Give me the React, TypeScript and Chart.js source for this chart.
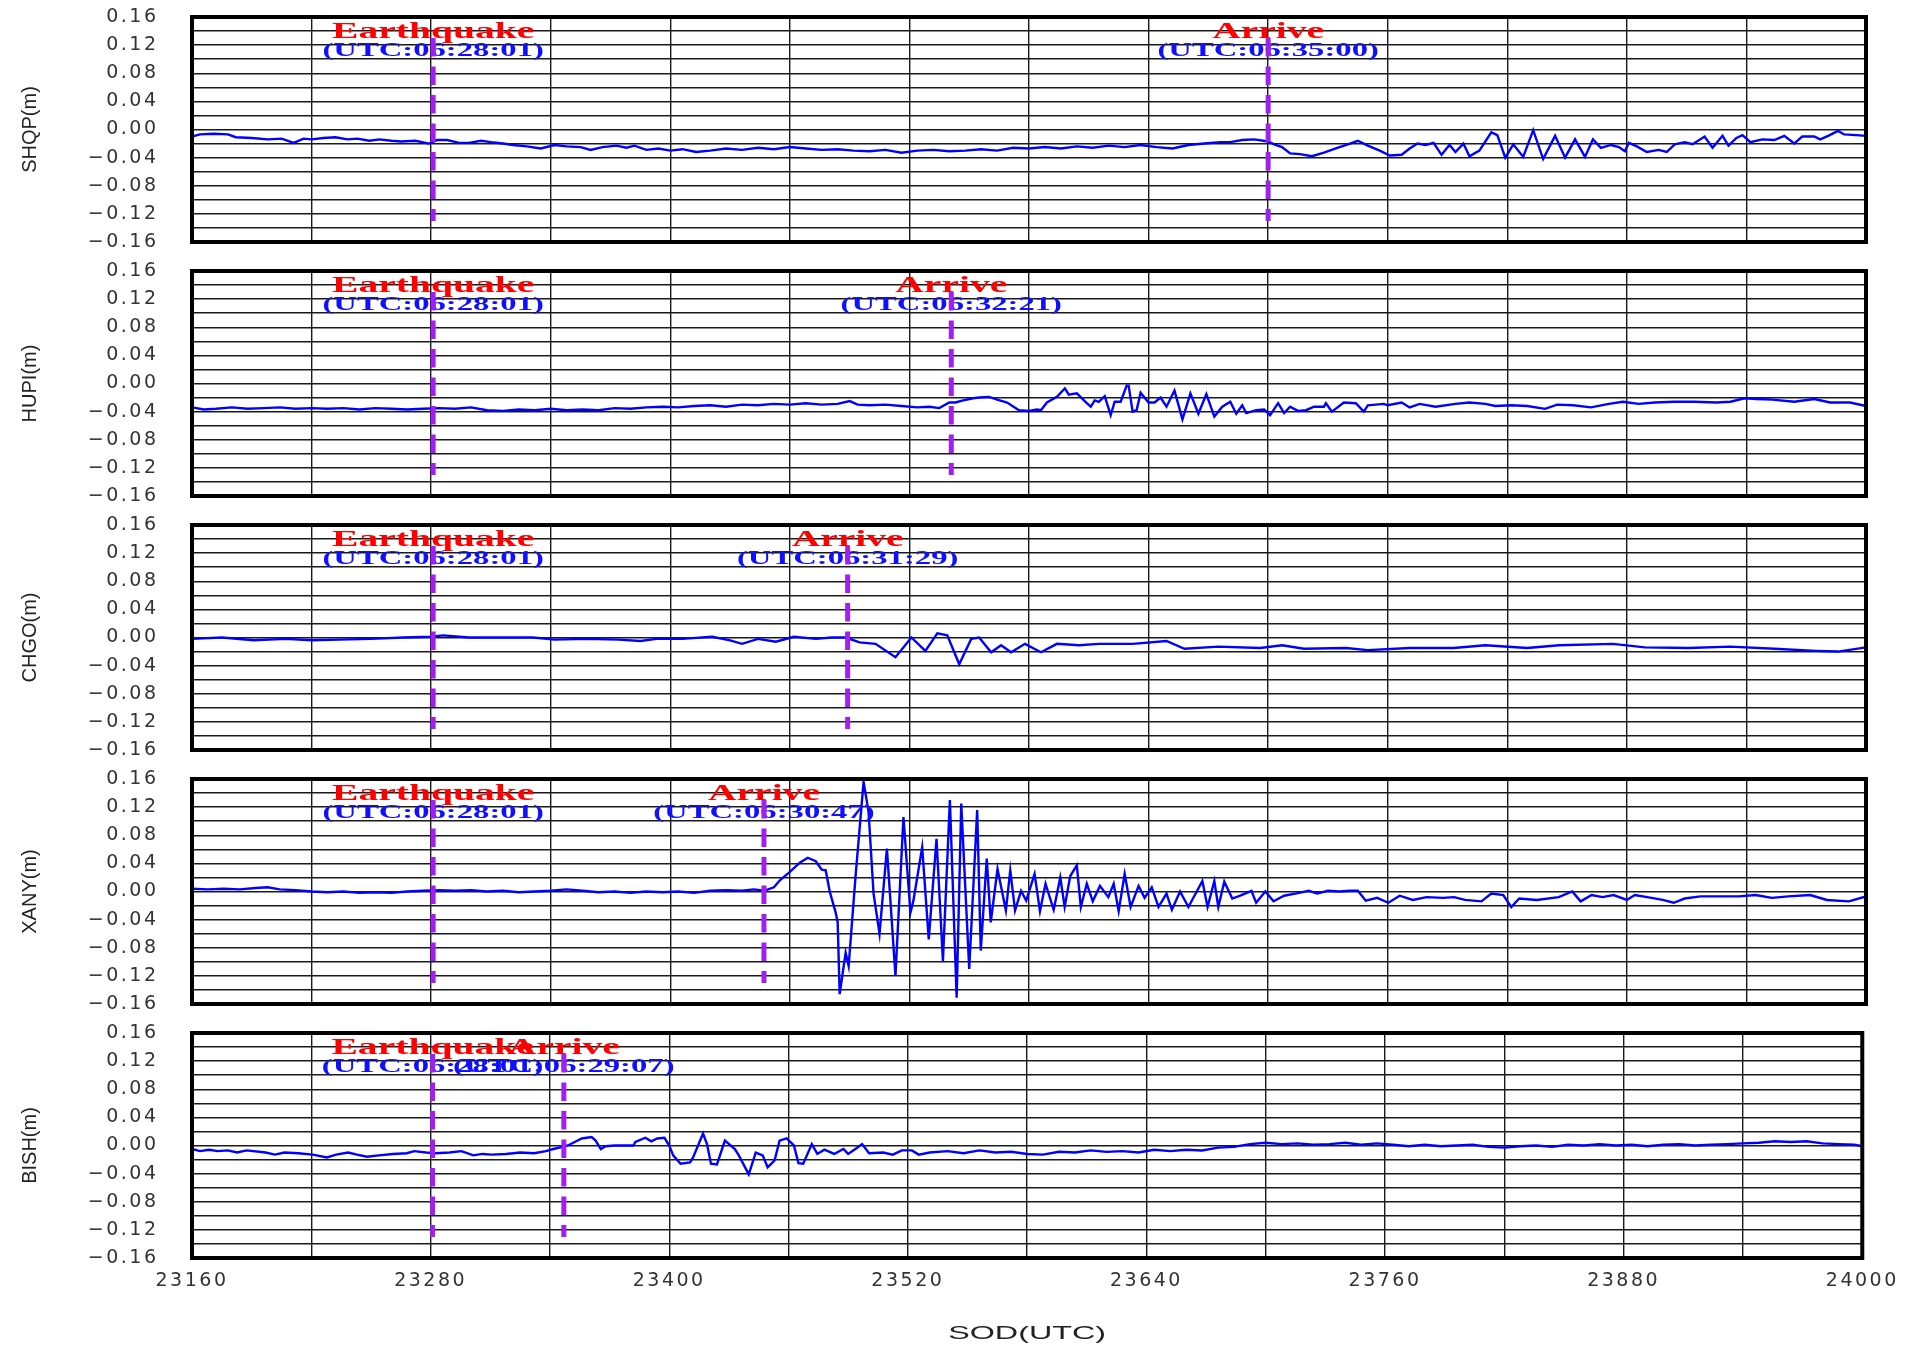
import React, { useEffect, useRef } from 'react';
import { Chart, registerables } from 'chart.js';

Chart.register(...registerables);

// ---------------- DATA ----------------
const STATION_NAMES = ['SHQP(m)', 'HUPI(m)', 'CHGO(m)', 'XANY(m)', 'BISH(m)'];
const QUAKE_TIME = 23281;
const QUAKE_TITLE = 'Earthquake';
const QUAKE_LABEL = '(UTC:06:28:01)';
const ARRIVE_TITLE = 'Arrive';
const ARRIVE_TIMES = [23700, 23541, 23489, 23447, 23347];
const ARRIVE_LABELS = ['(UTC:06:35:00)', '(UTC:06:32:21)', '(UTC:06:31:29)', '(UTC:06:30:47)', '(UTC:06:29:07)'];
const X_MIN = 23160;
const X_MAX = 24000;
const X_STEP = 60;
const X_TICK_LABELS = [23160, 23280, 23400, 23520, 23640, 23760, 23880, 24000];
const Y_MIN = -0.16;
const Y_MAX = 0.16;
const Y_STEP = 0.02;
const Y_TICK_LABELS = [-0.16, -0.12, -0.08, -0.04, 0, 0.04, 0.08, 0.12, 0.16];
const X_TITLE = 'SOD(UTC)';

const shqpT = [23160, 23164, 23171, 23178, 23182, 23190, 23198, 23205, 23211, 23216, 23220, 23226, 23232, 23238, 23243, 23249, 23254, 23260, 23265, 23272, 23279, 23283, 23288, 23294, 23299, 23305, 23310, 23316, 23321, 23328, 23335, 23342, 23348, 23355, 23360, 23366, 23373, 23378, 23382, 23388, 23394, 23400, 23406, 23413, 23420, 23428, 23436, 23444, 23452, 23460, 23468, 23476, 23484, 23492, 23500, 23508, 23516, 23524, 23532, 23540, 23548, 23556, 23564, 23572, 23580, 23588, 23596, 23604, 23612, 23620, 23628, 23636, 23644, 23652, 23660, 23668, 23676, 23681, 23687, 23693, 23700, 23703, 23707, 23711, 23716, 23722, 23728, 23734, 23740, 23745, 23750, 23756, 23761, 23767, 23771, 23775, 23779, 23783, 23787, 23791, 23794, 23798, 23801, 23806, 23812, 23815, 23819, 23823, 23828, 23833, 23838, 23844, 23849, 23854, 23859, 23863, 23867, 23872, 23876, 23879, 23881, 23885, 23890, 23896, 23900, 23904, 23909, 23913, 23919, 23923, 23928, 23931, 23935, 23938, 23942, 23948, 23954, 23959, 23964, 23968, 23974, 23977, 23981, 23986, 23989, 23995, 24000];
const shqpV = [-0.010, -0.007, -0.006, -0.007, -0.011, -0.012, -0.014, -0.013, -0.019, -0.013, -0.014, -0.012, -0.011, -0.014, -0.013, -0.016, -0.014, -0.016, -0.017, -0.016, -0.020, -0.015, -0.015, -0.019, -0.019, -0.016, -0.018, -0.020, -0.022, -0.024, -0.027, -0.022, -0.024, -0.025, -0.029, -0.025, -0.023, -0.026, -0.023, -0.029, -0.027, -0.030, -0.028, -0.032, -0.030, -0.027, -0.029, -0.026, -0.028, -0.025, -0.027, -0.029, -0.028, -0.030, -0.031, -0.029, -0.033, -0.030, -0.029, -0.031, -0.030, -0.028, -0.030, -0.026, -0.027, -0.025, -0.027, -0.024, -0.026, -0.023, -0.025, -0.022, -0.025, -0.027, -0.022, -0.020, -0.018, -0.018, -0.015, -0.014, -0.017, -0.021, -0.025, -0.034, -0.035, -0.038, -0.033, -0.027, -0.021, -0.016, -0.023, -0.030, -0.037, -0.036, -0.027, -0.020, -0.022, -0.019, -0.036, -0.022, -0.032, -0.020, -0.038, -0.030, -0.004, -0.008, -0.040, -0.021, -0.039, -0.001, -0.042, -0.009, -0.040, -0.014, -0.039, -0.014, -0.026, -0.022, -0.025, -0.031, -0.019, -0.024, -0.032, -0.029, -0.032, -0.021, -0.018, -0.021, -0.010, -0.026, -0.009, -0.023, -0.012, -0.008, -0.018, -0.014, -0.015, -0.009, -0.020, -0.010, -0.010, -0.014, -0.009, -0.002, -0.007, -0.008, -0.009];

const hupiT = [23160, 23166, 23172, 23180, 23188, 23196, 23204, 23212, 23220, 23228, 23236, 23244, 23252, 23260, 23268, 23276, 23284, 23292, 23300, 23308, 23316, 23324, 23332, 23340, 23348, 23356, 23364, 23372, 23380, 23388, 23396, 23404, 23412, 23420, 23428, 23436, 23444, 23452, 23460, 23468, 23476, 23484, 23490, 23494, 23500, 23508, 23516, 23524, 23530, 23535, 23540, 23543, 23547, 23552, 23555, 23560, 23564, 23569, 23575, 23580, 23584, 23586, 23589, 23594, 23598, 23600, 23604, 23609, 23611, 23613, 23615, 23618, 23621, 23623, 23626, 23629, 23630, 23632, 23634, 23636, 23640, 23643, 23646, 23649, 23653, 23657, 23661, 23665, 23669, 23673, 23677, 23681, 23684, 23687, 23689, 23694, 23698, 23701, 23705, 23708, 23711, 23715, 23719, 23723, 23728, 23729, 23732, 23738, 23744, 23748, 23750, 23758, 23760, 23767, 23771, 23776, 23784, 23794, 23801, 23809, 23814, 23822, 23830, 23839, 23845, 23853, 23862, 23871, 23878, 23886, 23894, 23904, 23914, 23925, 23932, 23939, 23945, 23953, 23964, 23974, 23982, 23992, 24000];
const hupiV = [-0.034, -0.037, -0.036, -0.034, -0.036, -0.035, -0.034, -0.036, -0.035, -0.036, -0.035, -0.037, -0.035, -0.036, -0.037, -0.036, -0.035, -0.036, -0.034, -0.038, -0.039, -0.037, -0.038, -0.036, -0.038, -0.037, -0.038, -0.035, -0.036, -0.034, -0.033, -0.034, -0.032, -0.031, -0.033, -0.030, -0.031, -0.029, -0.030, -0.028, -0.030, -0.029, -0.025, -0.030, -0.031, -0.030, -0.032, -0.034, -0.033, -0.035, -0.027, -0.027, -0.024, -0.021, -0.020, -0.019, -0.023, -0.027, -0.038, -0.039, -0.037, -0.038, -0.027, -0.019, -0.007, -0.016, -0.014, -0.028, -0.033, -0.024, -0.026, -0.018, -0.045, -0.026, -0.026, -0.003, -0.003, -0.040, -0.038, -0.013, -0.027, -0.027, -0.020, -0.033, -0.010, -0.051, -0.014, -0.043, -0.015, -0.047, -0.033, -0.026, -0.043, -0.031, -0.042, -0.038, -0.037, -0.045, -0.028, -0.042, -0.033, -0.039, -0.038, -0.033, -0.033, -0.028, -0.040, -0.027, -0.028, -0.040, -0.031, -0.029, -0.031, -0.027, -0.034, -0.029, -0.033, -0.029, -0.027, -0.029, -0.032, -0.031, -0.032, -0.036, -0.030, -0.031, -0.034, -0.029, -0.026, -0.029, -0.027, -0.026, -0.026, -0.027, -0.026, -0.021, -0.022, -0.023, -0.026, -0.022, -0.027, -0.027, -0.032];

const chgoT = [23160, 23175, 23191, 23207, 23220, 23234, 23250, 23266, 23280, 23286, 23299, 23315, 23331, 23342, 23358, 23374, 23385, 23393, 23406, 23421, 23430, 23436, 23444, 23453, 23462, 23473, 23481, 23488, 23495, 23503, 23513, 23521, 23528, 23534, 23539, 23545, 23551, 23555, 23561, 23566, 23571, 23578, 23586, 23594, 23605, 23615, 23632, 23649, 23658, 23675, 23696, 23707, 23718, 23739, 23750, 23771, 23793, 23809, 23830, 23846, 23873, 23889, 23911, 23932, 23954, 23975, 23986, 24000];
const chgoV = [-0.002, 0.000, -0.004, -0.002, -0.004, -0.003, -0.002, 0.000, 0.001, 0.003, 0.000, 0.000, 0.000, -0.003, -0.002, -0.003, -0.005, -0.002, -0.002, 0.001, -0.004, -0.009, -0.002, -0.006, 0.001, -0.002, 0.000, 0.000, -0.007, -0.009, -0.028, 0.000, -0.019, 0.006, 0.003, -0.038, -0.002, 0.000, -0.021, -0.011, -0.021, -0.009, -0.021, -0.009, -0.011, -0.009, -0.009, -0.005, -0.016, -0.013, -0.015, -0.011, -0.016, -0.015, -0.018, -0.015, -0.015, -0.011, -0.015, -0.011, -0.009, -0.014, -0.015, -0.013, -0.016, -0.019, -0.020, -0.014];

const xanyT = [23160, 23168, 23176, 23184, 23192, 23198, 23204, 23212, 23220, 23228, 23236, 23244, 23252, 23260, 23268, 23276, 23284, 23292, 23300, 23308, 23316, 23324, 23332, 23340, 23348, 23356, 23364, 23372, 23380, 23388, 23396, 23404, 23412, 23420, 23428, 23436, 23442, 23447, 23452, 23455, 23460, 23465, 23469, 23473, 23476, 23478, 23480, 23483, 23484, 23485, 23488, 23489.5, 23493, 23497, 23499.5, 23502, 23505, 23508.7, 23513, 23517, 23520.5, 23522, 23526.4, 23529.7, 23533.6, 23536.8, 23540.3, 23543.7, 23546, 23550, 23554, 23555.8, 23558.8, 23560.8, 23564.2, 23568.4, 23570.6, 23573, 23576, 23578.6, 23582.8, 23585.5, 23588.3, 23592.4, 23595.7, 23597.9, 23600.7, 23604, 23606, 23609, 23612, 23615.6, 23619.8, 23622.5, 23625, 23628, 23631, 23635, 23638, 23641.6, 23645, 23649, 23651.7, 23655.8, 23660, 23667, 23669.6, 23673, 23675, 23678, 23682, 23686, 23691.6, 23694, 23698.6, 23702.7, 23708, 23713.6, 23720.4, 23724.6, 23730, 23735.6, 23741, 23745, 23749, 23754.7, 23760.3, 23766, 23772.6, 23779.5, 23787.8, 23793.3, 23798.8, 23807, 23812, 23818, 23822, 23826, 23834.8, 23845.8, 23852.6, 23856.8, 23862.3, 23867.8, 23873.3, 23880, 23884, 23892.4, 23898, 23903.5, 23909, 23917, 23925.3, 23936.3, 23944.5, 23952.8, 23961, 23972, 23980.4, 23991.4, 24000];
const xanyV = [0.004, 0.003, 0.004, 0.003, 0.005, 0.006, 0.003, 0.002, 0.000, -0.001, 0.000, -0.002, -0.001, -0.002, 0.000, 0.001, 0.002, 0.001, 0.002, 0.000, 0.001, -0.001, 0.000, 0.001, 0.003, 0.001, -0.001, 0.000, -0.002, 0.000, -0.001, 0.000, -0.002, 0.001, 0.002, 0.001, 0.003, 0.001, 0.006, 0.016, 0.028, 0.041, 0.048, 0.043, 0.031, 0.030, 0.000, -0.030, -0.044, -0.146, -0.087, -0.106, 0.023, 0.156, 0.113, -0.003, -0.060, 0.061, -0.120, 0.106, -0.030, -0.013, 0.063, -0.068, 0.075, -0.099, 0.130, -0.151, 0.125, -0.110, 0.116, -0.084, 0.047, -0.044, 0.032, -0.027, 0.030, -0.027, 0.001, -0.013, 0.025, -0.028, 0.011, -0.026, 0.020, -0.022, 0.022, 0.037, -0.022, 0.011, -0.014, 0.008, -0.008, 0.011, -0.028, 0.025, -0.022, 0.008, -0.009, 0.006, -0.022, -0.003, -0.026, 0.000, -0.022, 0.015, -0.022, 0.015, -0.022, 0.014, -0.010, -0.006, 0.001, -0.016, 0.000, -0.014, -0.006, -0.003, 0.001, -0.003, 0.001, 0.000, 0.001, 0.001, -0.013, -0.009, -0.016, -0.006, -0.012, -0.008, -0.009, -0.008, -0.012, -0.014, -0.003, -0.005, -0.022, -0.010, -0.012, -0.008, 0.000, -0.014, -0.005, -0.008, -0.005, -0.012, -0.005, -0.009, -0.012, -0.016, -0.010, -0.007, -0.007, -0.007, -0.005, -0.009, -0.007, -0.005, -0.012, -0.014, -0.007];

const bishT = [23160, 23164, 23168.5, 23173, 23178, 23182.7, 23187.5, 23197, 23201.7, 23206.5, 23213.5, 23220.7, 23227.8, 23232.5, 23238.5, 23243, 23248, 23254, 23261, 23268, 23271.8, 23277.7, 23282.4, 23289.5, 23295.5, 23301.5, 23306, 23310.8, 23317.9, 23325, 23332, 23338, 23341.7, 23346.5, 23349, 23352.5, 23356, 23361, 23363, 23365.6, 23368, 23372.6, 23377.4, 23382, 23383, 23388, 23391, 23394, 23397.6, 23400, 23402, 23405.7, 23410.5, 23412, 23417, 23419, 23421, 23424, 23428, 23433, 23435, 23440, 23443.5, 23447, 23449.5, 23453, 23455.5, 23459, 23462.7, 23465, 23467.4, 23471.7, 23474.5, 23478, 23483, 23487.6, 23490, 23493.6, 23497, 23500.5, 23507.6, 23512.4, 23517, 23522, 23525.5, 23531, 23540, 23548, 23556, 23564, 23572, 23580, 23588, 23596, 23604, 23612, 23620, 23628, 23636, 23644, 23652, 23660, 23668, 23676, 23684, 23692, 23700, 23708, 23716, 23724, 23732, 23740, 23748, 23756, 23764, 23772, 23780, 23788, 23796, 23804, 23812, 23820, 23828, 23836, 23844, 23852, 23860, 23868, 23876, 23884, 23892, 23900, 23908, 23916, 23924, 23932, 23940, 23948, 23956, 23964, 23972, 23980, 23988, 23996, 24000];
const bishV = [-0.005, -0.008, -0.006, -0.008, -0.007, -0.010, -0.007, -0.010, -0.013, -0.010, -0.011, -0.013, -0.017, -0.013, -0.010, -0.013, -0.016, -0.014, -0.012, -0.011, -0.008, -0.010, -0.011, -0.010, -0.008, -0.014, -0.012, -0.013, -0.012, -0.010, -0.011, -0.008, -0.005, -0.002, 0.000, 0.005, 0.010, 0.012, 0.007, -0.005, -0.001, 0.000, 0.000, 0.000, 0.005, 0.011, 0.006, 0.010, 0.011, 0.000, -0.014, -0.026, -0.024, -0.017, 0.017, 0.002, -0.026, -0.027, 0.007, -0.005, -0.014, -0.041, -0.010, -0.014, -0.031, -0.021, 0.007, 0.010, 0.000, -0.025, -0.026, 0.002, -0.012, -0.006, -0.012, -0.005, -0.012, -0.005, 0.002, -0.011, -0.010, -0.013, -0.007, -0.007, -0.013, -0.010, -0.008, -0.011, -0.007, -0.010, -0.009, -0.012, -0.013, -0.009, -0.010, -0.007, -0.009, -0.008, -0.010, -0.006, -0.008, -0.006, -0.007, -0.003, -0.002, 0.002, 0.004, 0.002, 0.003, 0.001, 0.002, 0.004, 0.001, 0.003, 0.001, -0.001, 0.001, -0.001, 0.000, 0.001, -0.002, -0.003, -0.001, 0.000, -0.002, 0.001, 0.000, 0.002, 0.000, 0.001, -0.001, 0.001, 0.002, 0.000, 0.001, 0.002, 0.003, 0.004, 0.006, 0.005, 0.006, 0.003, 0.002, 0.001, -0.001];

const SERIES_T = [shqpT, hupiT, chgoT, xanyT, bishT];
const SERIES_V = [shqpV, hupiV, chgoV, xanyV, bishV];

// ---------------- LAYOUT ----------------
const PAGE_W = 1906;
const PAGE_H = 1346;
const PANEL_TOP0 = 17;
const PANEL_PITCH = 254;
const PANEL_H = 225;
const TICK_FONT = 19;
const TICK_PAD_Y = 33.5;
const PAD_TOP = TICK_FONT / 2 + TICK_PAD_Y; // 43
const PLOT_LEFT = 192;
const PAD_RIGHT = 40;
const TICK_SPACING = '2.5px';

function fmtY(v: number): string {
  const s = Math.abs(v).toFixed(2);
  return v < -1e-9 ? '\u2212' + s : s;
}

function Panel({ index }: { index: number }) {
  const ref = useRef<HTMLCanvasElement | null>(null);
  const last = index === SERIES_T.length - 1;
  const top = PANEL_TOP0 + PANEL_PITCH * index - PAD_TOP;
  const height = last ? PAGE_H - top : PANEL_H + 2 * PAD_TOP;
  const xAxisH = height - PAD_TOP - PANEL_H;

  useEffect(() => {
    const canvas = ref.current;
    if (!canvas) return;
    const times = SERIES_T[index];
    const vals = SERIES_V[index];
    const data = times.map((t, i) => ({ x: t, y: vals[i] }));

    const overlay = {
      id: 'overlay' + index,
      beforeDraw(chart: any) {
        chart.ctx.letterSpacing = '0px';
      },
      afterDatasetsDraw(chart: any) {
        const { ctx, chartArea: a, scales } = chart;
        const xs = scales.x;
        const ys = scales.y;
        ctx.save();
        ctx.letterSpacing = '0px';
        // frame
        ctx.strokeStyle = '#000';
        ctx.lineWidth = 4;
        ctx.strokeRect(a.left, a.top, a.right - a.left, a.bottom - a.top);

        const drawText = (t: number, title: string, sub: string) => {
          const px = xs.getPixelForValue(t);
          ctx.save();
          ctx.translate(px, a.top + 21);
          ctx.scale(1.72, 1);
          ctx.textAlign = 'center';
          ctx.textBaseline = 'alphabetic';
          ctx.font = 'bold 23px "Liberation Serif", "Times New Roman", serif';
          ctx.fillStyle = '#FF0000';
          ctx.fillText(title, 0, 0);
          ctx.restore();
          ctx.save();
          ctx.translate(px, a.top + 39);
          ctx.scale(1.72, 1);
          ctx.textAlign = 'center';
          ctx.textBaseline = 'alphabetic';
          ctx.font = 'bold 19px "Liberation Serif", "Times New Roman", serif';
          ctx.fillStyle = '#1010FF';
          ctx.fillText(sub, 0, 0);
          ctx.restore();
        };
        const drawLine = (t: number) => {
          const px = xs.getPixelForValue(t);
          ctx.save();
          ctx.strokeStyle = '#A020F0';
          ctx.lineWidth = 5;
          ctx.setLineDash([18.5, 10]);
          ctx.beginPath();
          ctx.moveTo(px, ys.getPixelForValue(0.13));
          ctx.lineTo(px, ys.getPixelForValue(-0.13));
          ctx.stroke();
          ctx.restore();
        };
        drawText(QUAKE_TIME, QUAKE_TITLE, QUAKE_LABEL);
        drawText(ARRIVE_TIMES[index], ARRIVE_TITLE, ARRIVE_LABELS[index]);
        drawLine(QUAKE_TIME);
        drawLine(ARRIVE_TIMES[index]);
        ctx.restore();
        // tick labels (drawn next, z = 1) get the wider spacing of the reference
        ctx.letterSpacing = TICK_SPACING;
      },
      afterDraw(chart: any) {
        const { ctx, chartArea: a } = chart;
        ctx.letterSpacing = '0px';
        if (last) {
          ctx.save();
          ctx.translate((a.left + a.right) / 2, a.bottom + 76);
          ctx.scale(1.7, 1);
          ctx.textAlign = 'center';
          ctx.textBaseline = 'middle';
          ctx.font = '19px "Liberation Sans", Arial, sans-serif';
          ctx.fillStyle = '#222';
          ctx.fillText(X_TITLE, 0, 0);
          ctx.restore();
        }
      },
    };

    const chart = new Chart(canvas, {
      type: 'line',
      data: {
        datasets: [
          {
            data,
            borderColor: '#0000FF',
            borderWidth: 2.4,
            pointRadius: 0,
            tension: 0,
            fill: false,
          },
        ],
      },
      options: {
        responsive: false,
        maintainAspectRatio: false,
        animation: false,
        events: [],
        layout: { padding: { top: PAD_TOP, right: PAD_RIGHT, left: 0, bottom: 0 } },
        plugins: { legend: { display: false }, tooltip: { enabled: false } },
        scales: {
          x: {
            type: 'linear',
            min: X_MIN,
            max: X_MAX,
            afterFit: (s: any) => {
              s.height = xAxisH;
            },
            ticks: {
              display: last,
              z: 1,
              stepSize: X_STEP,
              autoSkip: false,
              maxRotation: 0,
              minRotation: 0,
              padding: 13.5,
              color: '#333',
              font: { family: '"DejaVu Sans", sans-serif', size: TICK_FONT, lineHeight: 1 },
              callback: (v: any) => {
                const r = Math.round(Number(v));
                return X_TICK_LABELS.includes(r) ? String(r) : '';
              },
            },
            grid: { color: '#1a1a1a', lineWidth: 1.4, drawTicks: false },
            border: { display: false },
            title: { display: false },
          },
          y: {
            type: 'linear',
            min: Y_MIN,
            max: Y_MAX,
            afterFit: (s: any) => {
              s.width = PLOT_LEFT;
            },
            ticks: {
              z: 1,
              stepSize: Y_STEP,
              autoSkip: false,
              padding: TICK_PAD_Y,
              color: '#333',
              font: { family: '"DejaVu Sans", sans-serif', size: TICK_FONT, lineHeight: 1 },
              callback: (v: any) => {
                const n = Number(v);
                const hit = Y_TICK_LABELS.find((L) => Math.abs(L - n) < 1e-6);
                return hit === undefined ? '' : fmtY(hit);
              },
            },
            grid: { color: '#1a1a1a', lineWidth: 1.4, drawTicks: false },
            border: { display: false },
            title: {
              display: true,
              text: STATION_NAMES[index],
              color: '#222',
              font: { family: '"Liberation Sans", Arial, sans-serif', size: 20 },
              padding: { top: 18, bottom: 0 },
            },
          },
        },
      },
      plugins: [overlay],
    } as any);
    return () => chart.destroy();
  }, []);

  return (
    <canvas
      ref={ref}
      width={PAGE_W}
      height={height}
      style={{ position: 'absolute', left: 0, top, width: PAGE_W, height }}
    />
  );
}

export default function App() {
  return (
    <div style={{ position: 'absolute', left: 0, top: 0, width: PAGE_W, height: PAGE_H, background: '#fff', overflow: 'hidden' }}>
      {SERIES_T.map((_, i) => (
        <Panel key={i} index={i} />
      ))}
    </div>
  );
}
